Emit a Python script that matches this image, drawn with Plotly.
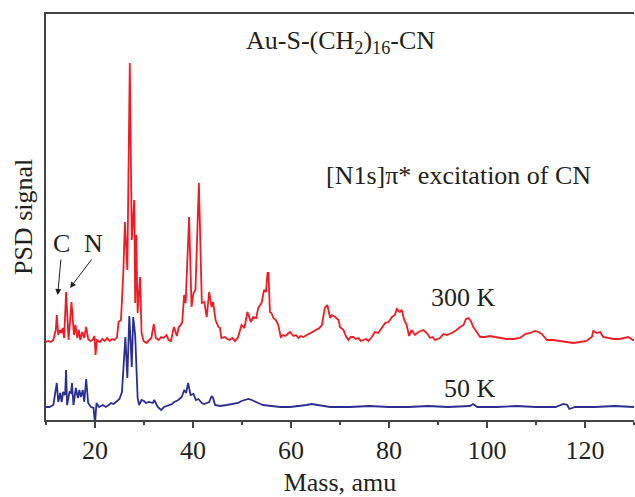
import plotly.graph_objects as go

# ---- data (arbitrary PSD signal units) ----
red_mass = [10.0, 10.5, 11.0, 11.5, 12.0, 12.2, 12.5, 12.8, 13.1, 13.4, 13.7, 14.1, 14.6, 15.2, 15.7, 16.0,
            16.4, 16.7, 17.0, 17.4, 17.8, 18.2, 18.6, 19.0, 19.5, 19.9, 20.1, 20.4, 21.0, 21.5, 22.0, 22.5,
            23.0, 23.5, 24.0, 24.5, 24.8, 25.3, 25.8, 26.1, 26.6, 27.1, 27.5, 28.0, 28.2, 28.4, 28.7, 29.2,
            29.5, 29.9, 30.5, 31.0, 31.5, 32.0, 32.4, 33.0, 33.5, 34.0, 34.6, 35.0, 35.5, 36.1, 36.7, 37.1,
            37.5, 37.8, 38.2, 38.5, 39.2, 39.7, 40.1, 40.5, 41.2, 41.8, 42.3, 42.8, 43.3, 43.8, 44.1, 44.6,
            45.2, 45.5, 45.8, 46.5, 47.0, 47.5, 48.0, 48.6, 49.2, 49.9, 50.5, 51.1, 51.8, 52.3, 52.9, 53.3,
            54.0, 54.5, 54.9, 55.2, 55.4, 55.7, 56.0, 56.4, 56.9, 57.4, 57.9, 58.4, 58.8, 59.3, 59.8, 60.5,
            61.0, 61.5, 62.0, 62.5, 63.2, 63.9, 64.5, 65.2, 65.8, 66.3, 66.9, 67.4, 68.0, 68.3, 69.0, 69.7,
            70.0, 70.7, 71.2, 71.7, 72.2, 72.7, 73.2, 73.7, 74.3, 74.8, 75.3, 75.8, 76.5, 77.1, 77.8, 78.5,
            79.2, 79.9, 80.6, 81.2, 81.6, 82.2, 82.6, 83.1, 83.6, 84.1, 84.6, 85.3, 86.0, 87.0, 87.7, 88.4,
            88.9, 89.4, 90.4, 91.1, 91.8, 92.8, 93.8, 94.5, 95.2, 95.7, 96.2, 96.7, 97.2, 97.9, 98.6, 99.6,
            100.6, 101.6, 102.7, 104.0, 105.4, 106.7, 107.8, 108.8, 109.8, 110.5, 111.2, 111.8, 112.2, 113.5,
            114.9, 116.3, 117.6, 119.0, 120.3, 121.4, 121.7, 122.4, 123.1, 123.7, 124.8, 125.8, 127.1, 128.2,
            128.8, 129.8, 130.0]
red_signal = [78, 79, 78, 80, 90, 105, 85, 90, 87, 92, 82, 128, 80, 118, 85, 95,
              82, 90, 80, 88, 82, 93, 81, 79, 80, 84, 65, 80, 78, 81, 79, 82,
              79, 81, 80, 83, 98, 100, 150, 198, 150, 357, 180, 220, 117, 185, 107, 143,
              87, 79, 77, 80, 82, 96, 82, 80, 83, 82, 85, 80, 79, 93, 84, 93,
              95, 98, 125, 117, 203, 113, 127, 130, 237, 117, 118, 103, 128, 113, 118, 100,
              93, 92, 82, 83, 81, 80, 82, 79, 83, 95, 92, 108, 98, 103, 102, 112,
              117, 130, 128, 147, 147, 108, 107, 102, 100, 95, 83, 85, 84, 86, 88, 84,
              85, 82, 84, 83, 85, 87, 88, 90, 92, 95, 112, 115, 102, 105, 103, 100,
              93, 90, 84, 80, 83, 83, 81, 82, 79, 80, 81, 79, 83, 88, 87, 92,
              97, 98, 103, 105, 111, 108, 110, 100, 95, 84, 90, 85, 88, 90, 87, 82,
              83, 80, 82, 86, 85, 87, 90, 93, 95, 101, 102, 99, 93, 88, 83, 83,
              84, 83, 82, 81, 81, 82, 86, 87, 89, 88, 86, 83, 80, 80,
              79, 78, 77, 78, 79, 83, 89, 87, 88, 83, 82, 81, 81, 82,
              83, 80, 80]

blue_mass = [10.0, 10.7, 11.5, 12.0, 12.2, 12.5, 12.9, 13.2, 13.5, 13.9, 14.1, 14.3, 14.8, 15.1, 15.3, 15.6,
             16.1, 16.5, 16.8, 17.1, 17.5, 17.8, 18.2, 18.6, 19.2, 19.7, 20.0, 20.3, 20.8, 21.6, 22.2, 22.8,
             23.3, 23.8, 24.3, 25.0, 25.5, 26.0, 26.2, 26.6, 27.0, 27.3, 27.5, 27.8, 28.2, 28.7, 29.0, 29.5,
             30.0, 30.4, 31.0, 31.8, 32.1, 32.8, 33.5, 34.1, 34.6, 35.2, 35.7, 36.2, 37.0, 37.7, 38.2, 38.6,
             39.0, 39.5, 40.1, 40.6, 41.1, 41.8, 42.3, 42.8, 43.3, 43.8, 44.1, 44.5, 45.5, 46.9, 48.2, 49.2,
             49.9, 50.6, 51.3, 52.0, 52.7, 53.3, 54.3, 55.7, 57.8, 59.8, 61.8, 63.2, 64.2, 65.3, 66.5, 68.0,
             72.0, 76.0, 80.0, 84.0, 88.0, 92.0, 96.5, 97.2, 98.0, 102.0, 106.0, 110.0, 114.0, 115.6, 116.4,
             116.8, 118.0, 122.0, 126.0, 130.0]
blue_signal = [13, 13, 15, 35, 37, 18, 27, 18, 28, 25, 50, 15, 28, 27, 37, 15,
               32, 22, 30, 23, 30, 18, 41, 17, 13, 12, -4, 17, 13, 15, 13, 15,
               17, 16, 18, 21, 28, 70, 83, 42, 104, 75, 53, 103, 85, 22, 15, 20,
               19, 17, 18, 17, 20, 13, 10, 13, 14, 15, 16, 18, 20, 23, 30, 27,
               37, 25, 26, 20, 21, 17, 16, 17, 18, 24, 22, 15, 14, 15, 16, 17,
               19, 20, 21, 20, 18, 17, 15, 14, 13, 13, 14, 15, 16, 15, 14, 13,
               13, 14, 13, 13, 14, 13, 14, 16, 13, 13, 14, 13, 13, 16, 15,
               11, 13, 13, 14, 13]

tick_vals = [20, 40, 60, 80, 100, 120]
tick_text = ["20", "40", "60", "80", "100", "120"]

RED = "#ee1c25"
BLUE = "#2b2f8f"
TXT = "#231f20"
FONT = "Liberation Serif, Times New Roman, serif"

fig = go.Figure()
fig.add_trace(go.Scatter(x=blue_mass, y=blue_signal, mode="lines",
                         line=dict(color=BLUE, width=1.8), hoverinfo="skip", showlegend=False))
fig.add_trace(go.Scatter(x=red_mass, y=red_signal, mode="lines",
                         line=dict(color=RED, width=1.8), hoverinfo="skip", showlegend=False))

fig.update_layout(
    width=635, height=497,
    margin=dict(l=46, r=1, t=14, b=77),
    paper_bgcolor="white", plot_bgcolor="white",
    font=dict(family=FONT, size=26, color=TXT),
    xaxis=dict(range=[10, 130], tickmode="array", tickvals=tick_vals, ticktext=tick_text,
               ticks="outside", ticklen=6, tickwidth=1.5, tickcolor="#444",
               minor=dict(dtick=10, tick0=0, ticks="outside", ticklen=3, tickwidth=1.5, tickcolor="#444"),
               showline=True, linecolor="#444", linewidth=1.5, mirror=True,
               showgrid=False, zeroline=False,
               tickfont=dict(family=FONT, size=26, color=TXT),
               title=dict(text="Mass, amu", font=dict(family=FONT, size=26, color=TXT), standoff=14)),
    yaxis=dict(range=[0, 406], showticklabels=False, ticks="",
               showline=True, linecolor="#444", linewidth=1.5,
               showgrid=False, zeroline=False),
)
fig.add_annotation(x=-0.039, xref="paper", y=0.5, yref="paper", text="PSD signal", textangle=-90,
                   showarrow=False, font=dict(family=FONT, size=26, color=TXT), xanchor="center", yanchor="middle")

def label(x, y, text):
    fig.add_annotation(x=x, y=y, xref="x", yref="y", text=text, showarrow=False,
                       font=dict(family=FONT, size=26, color=TXT), xanchor="center", yanchor="middle")

label(70, 378, "Au-S-(CH<sub>2</sub>)<sub>16</sub>-CN")
label(94.1, 245, "[N1s]π* excitation of CN")
label(95.3, 123, "300 K")
label(96.5, 32, "50 K")
label(13.1, 177, "C")
label(19.6, 177, "N")

for (hx, hy, tx, ty) in [(12.39, 125, 13.06, 162), (14.9, 132, 19.53, 162)]:
    fig.add_annotation(x=hx, y=hy, ax=tx, ay=ty, xref="x", yref="y", axref="x", ayref="y",
                       text="", showarrow=True, arrowhead=2, arrowsize=1.2, arrowwidth=1, arrowcolor=TXT)

fig.write_html("out.html")
